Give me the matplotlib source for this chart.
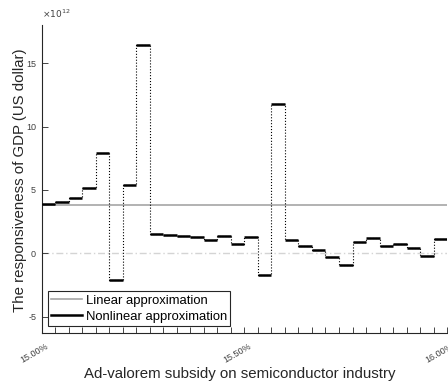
import numpy as np
import matplotlib
matplotlib.use("Agg")
import matplotlib.pyplot as plt
from matplotlib.lines import Line2D
from matplotlib.transforms import ScaledTranslation

plt.rcParams["font.family"] = ["Liberation Sans", "DejaVu Sans"]

# subsidy range (percent) split into 30 equal intervals
subsidy_start = 15.0
subsidy_end = 16.0
n_steps = 30

# responsiveness of GDP per interval, in units of 1e12 US dollar
nonlinear = [3.87, 4.08, 4.39, 5.13, 7.94, -2.09, 5.39, 16.42, 1.54, 1.46,
             1.38, 1.27, 1.09, 1.40, 0.77, 1.32, -1.72, 11.77, 1.09, 0.57,
             0.25, -0.30, -0.88, 0.88, 1.20, 0.62, 0.77, 0.46, -0.20, 1.14]
linear = 3.8

tick_labels = {0: "15.00%", 15: "15.50%", 30: "16.00%"}

edges = np.linspace(subsidy_start, subsidy_end, n_steps + 1)

fig = plt.figure(figsize=(4.48, 3.88), dpi=100)
ax = fig.add_axes([0.093, 0.1425, 0.905, 0.793])

ax.axhline(0, color="#d4d4d4", lw=1.0, ls="-.", dashes=(5, 2, 1, 2), zorder=1)
ax.axhline(linear, color="#a6a6a6", lw=1.2, zorder=2)
ax.stairs(nonlinear, edges, baseline=None, color="k", lw=0.8, ls=":", zorder=3)
ax.hlines(nonlinear, edges[:-1], edges[1:], color="k", lw=1.8, zorder=4)

ax.set_xlim(subsidy_start, subsidy_end)
ax.set_ylim(-6.25, 18)
ax.set_yticks([-5, 0, 5, 10, 15])
ax.set_yticklabels(["-5", "0", "5", "10", "15"])
ax.set_xticks(edges)
ax.set_xticklabels([tick_labels.get(i, "") for i in range(len(edges))],
                   rotation=30, ha="right", va="center", rotation_mode="anchor")

for side in ["top", "right"]:
    ax.spines[side].set_visible(False)
for side in ["left", "bottom"]:
    ax.spines[side].set_color("#262626")
    ax.spines[side].set_linewidth(0.8)
ax.tick_params(direction="in", length=4, width=0.6, colors="#262626",
               labelsize=6.5, labelcolor="#404040")
ax.tick_params(axis="x", pad=0)
ax.tick_params(axis="y", pad=4)

shift = ScaledTranslation(0.06, -0.13, fig.dpi_scale_trans)
for lab in ax.get_xticklabels():
    lab.set_transform(lab.get_transform() + shift)

ax.text(0.0, 1.015, r"$\times10^{12}$", transform=ax.transAxes,
        fontsize=6.5, color="#404040", ha="left", va="bottom")

ax.set_xlabel("Ad-valorem subsidy on semiconductor industry", fontsize=10.8,
              color="#262626", va="top")
ax.xaxis.set_label_coords(0.489, -0.11)
ax.set_ylabel("The responsiveness of GDP (US dollar)", fontsize=10.8,
              color="#262626")
ax.yaxis.set_label_coords(-0.036, 0.496)

handles = [Line2D([], [], color="#a6a6a6", lw=1.2),
           Line2D([], [], color="k", lw=1.8)]
leg = ax.legend(handles, ["Linear approximation", "Nonlinear approximation"],
                loc="lower left", bbox_to_anchor=(0.015, 0.022), borderaxespad=0,
                fontsize=9.4, handlelength=2.4, handletextpad=0.25,
                borderpad=0.25, labelspacing=0.3, fancybox=False, framealpha=1)
leg.get_frame().set_edgecolor("#262626")
leg.get_frame().set_linewidth(0.8)

fig.savefig("out.png", dpi=100)
